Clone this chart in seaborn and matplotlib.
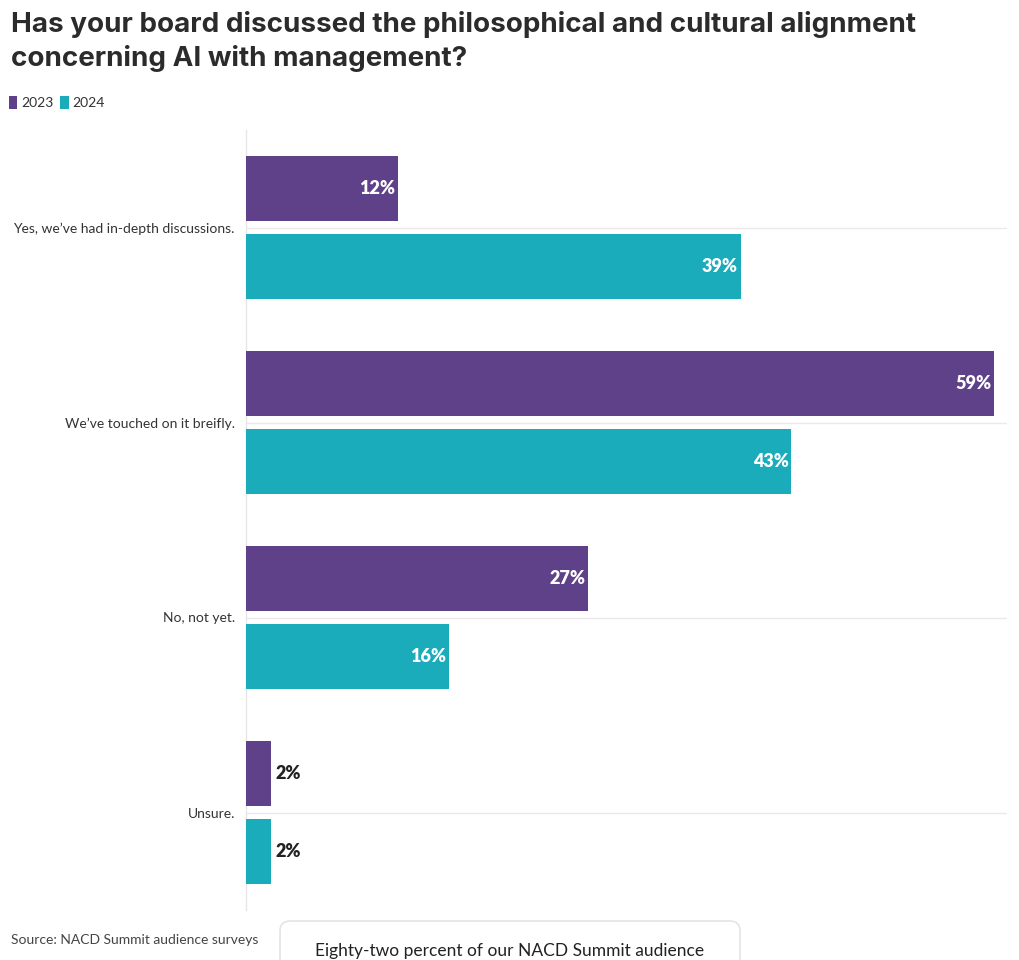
import matplotlib
matplotlib.use("Agg")
from matplotlib import pyplot as plt
from matplotlib.patches import FancyBboxPatch, Patch
import seaborn as sns
import pandas as pd

categories = [
    "Yes, we\u2019ve had in-depth discussions.",
    "We\u2019ve touched on it breifly.",
    "No, not yet.",
    "Unsure.",
]
years = ["2023", "2024"]
values_2023 = [12, 59, 27, 2]
values_2024 = [39, 43, 16, 2]
colors = {"2023": "#5f418a", "2024": "#1aacbb"}

title = ("Has your board discussed the philosophical and cultural alignment\n"
         "concerning AI with management?")
source = "Source: NACD Summit audience surveys"
card_text = "Eighty-two percent of our NACD Summit audience"

df = pd.DataFrame({
    "category": categories * 2,
    "year": ["2023"] * 4 + ["2024"] * 4,
    "value": values_2023 + values_2024,
})

sns.set_style("white")
plt.rcParams["font.family"] = ["Lato", "DejaVu Sans"]

fig = plt.figure(figsize=(10.2, 9.6), dpi=100)
ax = fig.add_axes([246 / 1020, 50 / 960, 761 / 1020, 780 / 960])

sns.barplot(
    data=df, y="category", x="value", hue="year",
    order=categories, hue_order=years, palette=colors,
    orient="h", width=0.8, gap=0.167, saturation=1, linewidth=0,
    legend=False, ax=ax,
)

ax.set_xlim(0, 60)
ax.set_ylim(3.5, -0.5)
ax.set_xlabel("")
ax.set_ylabel("")
ax.set_xticks([])
ax.tick_params(axis="y", length=0, pad=8, labelsize=10, labelcolor="#333333")

# gridlines at category centres
for i in range(len(categories)):
    ax.axhline(i, color="#ece8ec", linewidth=1, zorder=0)

for s in ["top", "right", "bottom"]:
    ax.spines[s].set_visible(False)
ax.spines["left"].set_color("#e6e6e6")
ax.spines["left"].set_linewidth(1)
ax.spines["left"].set_zorder(0)

# value labels
for container in ax.containers:
    for bar in container:
        w = bar.get_width()
        yc = bar.get_y() + bar.get_height() / 2
        if w >= 5:
            ax.annotate(f"{w:.0f}%", (w, yc), xytext=(-2, 0),
                        textcoords="offset points", ha="right", va="center",
                        color="white", fontsize=13, fontweight="heavy")
        else:
            ax.annotate(f"{w:.0f}%", (w, yc), xytext=(3, 0),
                        textcoords="offset points", ha="left", va="center",
                        color="#222222", fontsize=13, fontweight="heavy")

# title
fig.text(11 / 1020, 1 - 11 / 960, title, ha="left", va="top",
         fontsize=20, fontweight="bold", color="#2b2b2b", linespacing=1.35,
         family=["Inter", "DejaVu Sans"])

# legend
handles = [Patch(facecolor=colors[y], edgecolor="none", label=y) for y in years]
fig.legend(handles=handles, loc="upper left", bbox_to_anchor=(3 / 1020, 1 - 90 / 960),
           ncol=2, frameon=False, fontsize=10, handlelength=0.6, handleheight=1.1,
           handletextpad=0.3, columnspacing=0.5, borderaxespad=0,
           labelcolor="#333333")

# source
fig.text(11 / 1020, 1 - 940 / 960, source, ha="left", va="center",
         fontsize=10, color="#444444")

# bottom card
card = FancyBboxPatch((280 / 1020, -0.05), 460 / 1020, 0.05 + 39 / 960,
                      boxstyle="round,pad=0,rounding_size=0.01",
                      transform=fig.transFigure, facecolor="white",
                      edgecolor="#e4e4e4", linewidth=1.2, zorder=5)
fig.patches.append(card)
fig.text(510 / 1020, 1 - 951 / 960, card_text, ha="center", va="center",
         fontsize=12.5, color="#222222", zorder=6)

fig.savefig("out.png", dpi=100)
